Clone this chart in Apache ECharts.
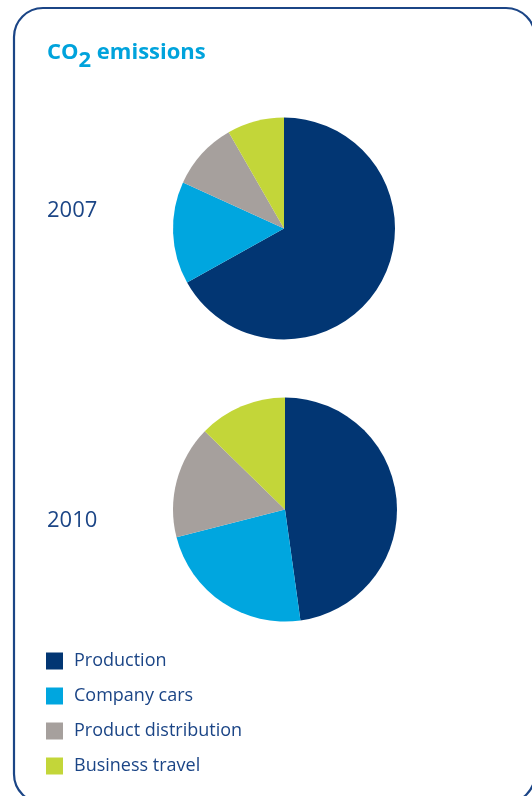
<!DOCTYPE html>
<html>
<head>
<meta charset="utf-8">
<script src="https://cdn.jsdelivr.net/npm/echarts@6/dist/echarts.min.js"></script>
<style>
  html, body { margin: 0; padding: 0; background: #ffffff; }
  #chart { width: 532px; height: 796px; }
</style>
</head>
<body>
<div id="chart"></div>
<script>
// Emission sources and their shares (%) per year
const categories = ['Production', 'Company cars', 'Product distribution', 'Business travel'];
const years = ['2007', '2010'];
const values2007 = [66.9, 14.9, 9.9, 8.3];
const values2010 = [47.8, 23.2, 16.3, 12.7];
const palette = ['#023673', '#00a6df', '#a6a09d', '#c3d639'];

const FONT = '"Open Sans", "Noto Sans", sans-serif';
const NAVY = '#1b4586';

function pieSeries(name, values, center, radius) {
  return {
    type: 'pie',
    name: name,
    center: center,
    radius: radius,
    startAngle: 90,
    clockwise: true,
    silent: true,
    label: { show: false },
    labelLine: { show: false },
    itemStyle: { borderWidth: 0 },
    data: categories.map((c, i) => ({ name: c, value: values[i] }))
  };
}

const chart = echarts.init(document.getElementById('chart'), null, { renderer: 'canvas' });
chart.setOption({
  animation: false,
  backgroundColor: '#ffffff',
  color: palette,
  title: {
    left: 47,
    top: 34,
    padding: 0,
    text: 'CO{sub|2} emissions',
    textStyle: {
      fontFamily: FONT,
      fontSize: 22,
      fontWeight: 'bold',
      color: '#00a3dc',
      rich: {
        sub: {
          fontFamily: FONT,
          fontSize: 22,
          fontWeight: 'bold',
          color: '#00a3dc',
          padding: [16, 0, 0, 0]
        }
      }
    }
  },
  legend: {
    orient: 'vertical',
    left: 46,
    top: 652,
    padding: 0,
    itemWidth: 17,
    itemHeight: 17,
    itemGap: 17,
    icon: 'rect',
    selectedMode: false,
    data: categories,
    textStyle: { fontFamily: FONT, fontSize: 18, color: NAVY, padding: [0, 0, 0, 6] }
  },
  graphic: [
    {
      type: 'rect',
      shape: { x: 14, y: 8, width: 521, height: 795, r: 29 },
      style: { fill: 'none', stroke: NAVY, lineWidth: 2.2 },
      silent: true
    },
    {
      type: 'text', left: 47, top: 200,
      style: { text: years[0], fontFamily: FONT, fontSize: 22, fill: NAVY }
    },
    {
      type: 'text', left: 47, top: 510,
      style: { text: years[1], fontFamily: FONT, fontSize: 22, fill: NAVY }
    }
  ],
  series: [
    pieSeries(years[0], values2007, [284, 228.5], 111),
    pieSeries(years[1], values2010, [285, 509.5], 112)
  ]
});
</script>
</body>
</html>
